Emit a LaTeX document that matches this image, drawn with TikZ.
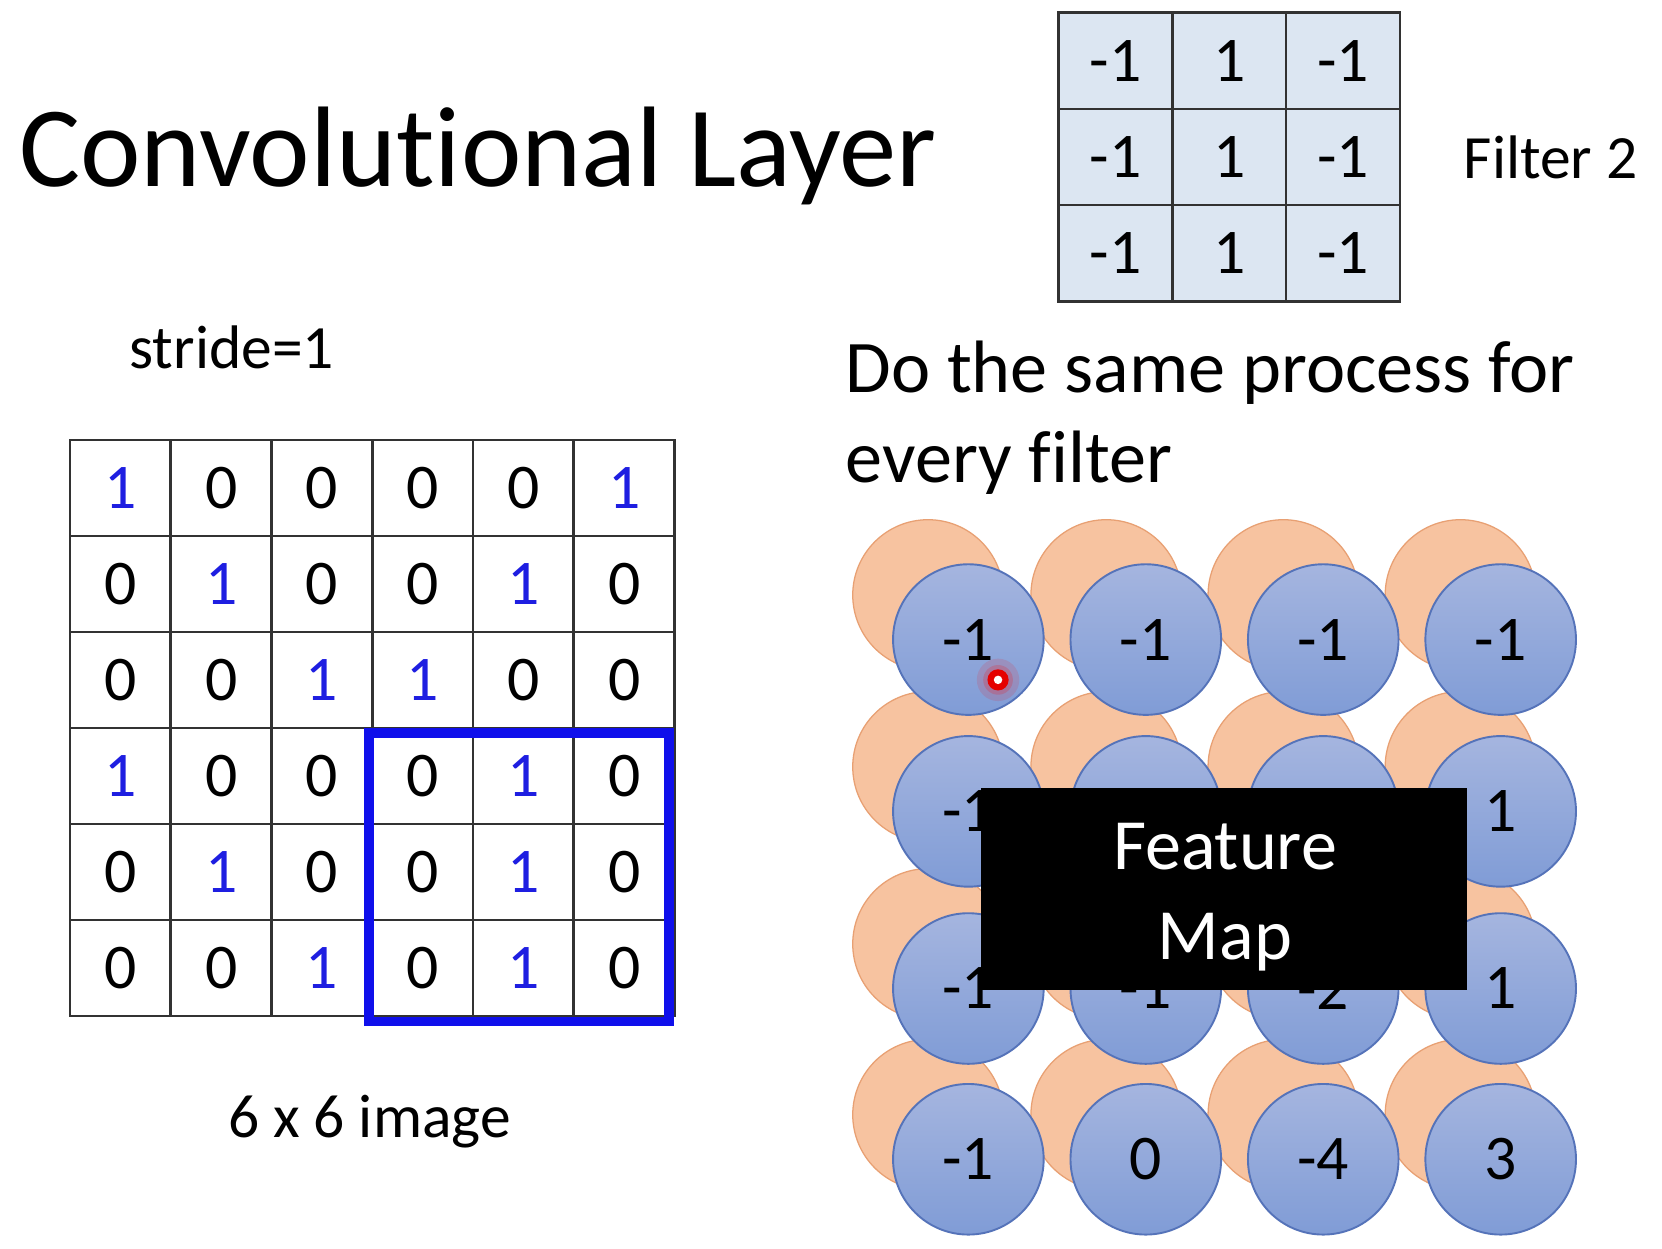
\documentclass[tikz,border=0pt]{standalone}
\usepackage{fontspec}
\setmainfont{Carlito}[Ligatures=NoCommon]
\definecolor{gridgray}{RGB}{50,50,50}
\definecolor{oneblue}{RGB}{30,30,225}
\definecolor{boxblue}{RGB}{15,15,235}
\definecolor{filterblue}{RGB}{220,230,242}
\definecolor{orfill}{RGB}{247,195,160}
\definecolor{oredge}{RGB}{232,160,115}
\definecolor{btop}{RGB}{165,181,223}
\definecolor{bbot}{RGB}{128,156,214}
\definecolor{bedge}{RGB}{85,115,185}
\begin{document}
\begin{tikzpicture}[x=1pt,y=-1pt,
  numfont/.style={font=\fontsize{60}{62}\selectfont},
  gcell/.style={draw=gridgray, line width=2.5pt, minimum width=95pt, minimum height=90.5pt, inner sep=0pt, outer sep=0pt, numfont},
  fcell/.style={draw=gridgray, line width=2.5pt, fill=filterblue, minimum width=107.3pt, minimum height=90.7pt, inner sep=0pt, outer sep=0pt, numfont},
  ocirc/.style={circle, draw=oredge, line width=1.2pt, fill=orfill, minimum size=142pt, inner sep=0pt},
  bcirc/.style={circle, draw=bedge, line width=1.8pt, top color=btop, bottom color=bbot, minimum size=142pt, inner sep=0pt, numfont},
  label/.style={inner sep=0pt, anchor=base west, font=\fontsize{58}{60}\selectfont}
]
\useasboundingbox (0,0) rectangle (1567,1177.6);
\fill[white] (0,0) rectangle (1567,1177.6);

% title
\node[inner sep=0pt, anchor=base west, font=\fontsize{108}{110}\selectfont] (title) at (18,176) {Convolutional Layer};

% filter 2
\foreach \row [count=\ri from 0] in {{-1,1,-1},{-1,1,-1},{-1,1,-1}} {
  \foreach \v [count=\ci from 0] in \row {
    \node[fcell] (f-\ri-\ci) at ({998+107.3*\ci+53.65},{12+90.7*\ri+45.35}) {\v};
  }
}
\node[label] (filtername) at (1380,168) {Filter 2};

% stride
\node[label] (stride) at (122,347) {stride=1};

% image grid
\foreach \row [count=\ri from 0] in {{1,0,0,0,0,1},{0,1,0,0,1,0},{0,0,1,1,0,0},{1,0,0,0,1,0},{0,1,0,0,1,0},{0,0,1,0,1,0}} {
  \foreach \v [count=\ci from 0] in \row {
    \ifnum\v=1 \def\numcol{oneblue}\else\def\numcol{black}\fi
    \node[gcell, text=\numcol] (g-\ri-\ci) at ({66+95*\ci+47.5},{415+90.5*\ri+45.25}) {\v};
  }
}
\draw[boxblue, line width=9pt] (348,691) rectangle (631,963);
\node[label] (imgcap) at (215,1072) {6 x 6 image};

% explanation
\node[inner sep=0pt, anchor=base west, font=\fontsize{70}{85}\selectfont] (do1) at (797,370) {Do the same process for};
\node[inner sep=0pt, anchor=base west, font=\fontsize{70}{85}\selectfont] (do2) at (797,455) {every filter};

% feature map circles
\foreach \yy [count=\ri from 0] in {603,765,932,1093} {
  \foreach \xx [count=\ci from 0] in {913,1081,1248,1415} {
    \node[ocirc] (o-\ri-\ci) at (\xx-38,\yy-42) {};
  }
}
\foreach \row [count=\ri from 0] in {{-1,-1,-1,-1},{-1,{},{},1},{-1,-1,-2,1},{-1,0,-4,3}} {
  \foreach \v [count=\ci from 0] in \row {
    \pgfmathsetmacro{\xx}{913+167.3*\ci}
    \pgfmathsetmacro{\yy}{{603,765,932,1093}[\ri]}
    \node[bcirc] (b-\ri-\ci) at (\xx,\yy) {\v};
  }
}

% feature map overlay
\node[fill=black, minimum width=458pt, minimum height=190pt, inner sep=0pt] (fm) at (1154,838) {};
\node[inner sep=0pt, anchor=base, text=white, font=\fontsize{68}{70}\selectfont] (fmt1) at (1155,820) {Feature};
\node[inner sep=0pt, anchor=base, text=white, font=\fontsize{68}{70}\selectfont] (fmt2) at (1155,905) {Map};

% pointer
\fill[red, opacity=0.12] (941,641) circle (20);
\fill[red, opacity=0.18] (941,641) circle (14);
\fill[red!90!black] (941,641) circle (10);
\fill[white] (941,641) circle (4);
\end{tikzpicture}
\end{document}
